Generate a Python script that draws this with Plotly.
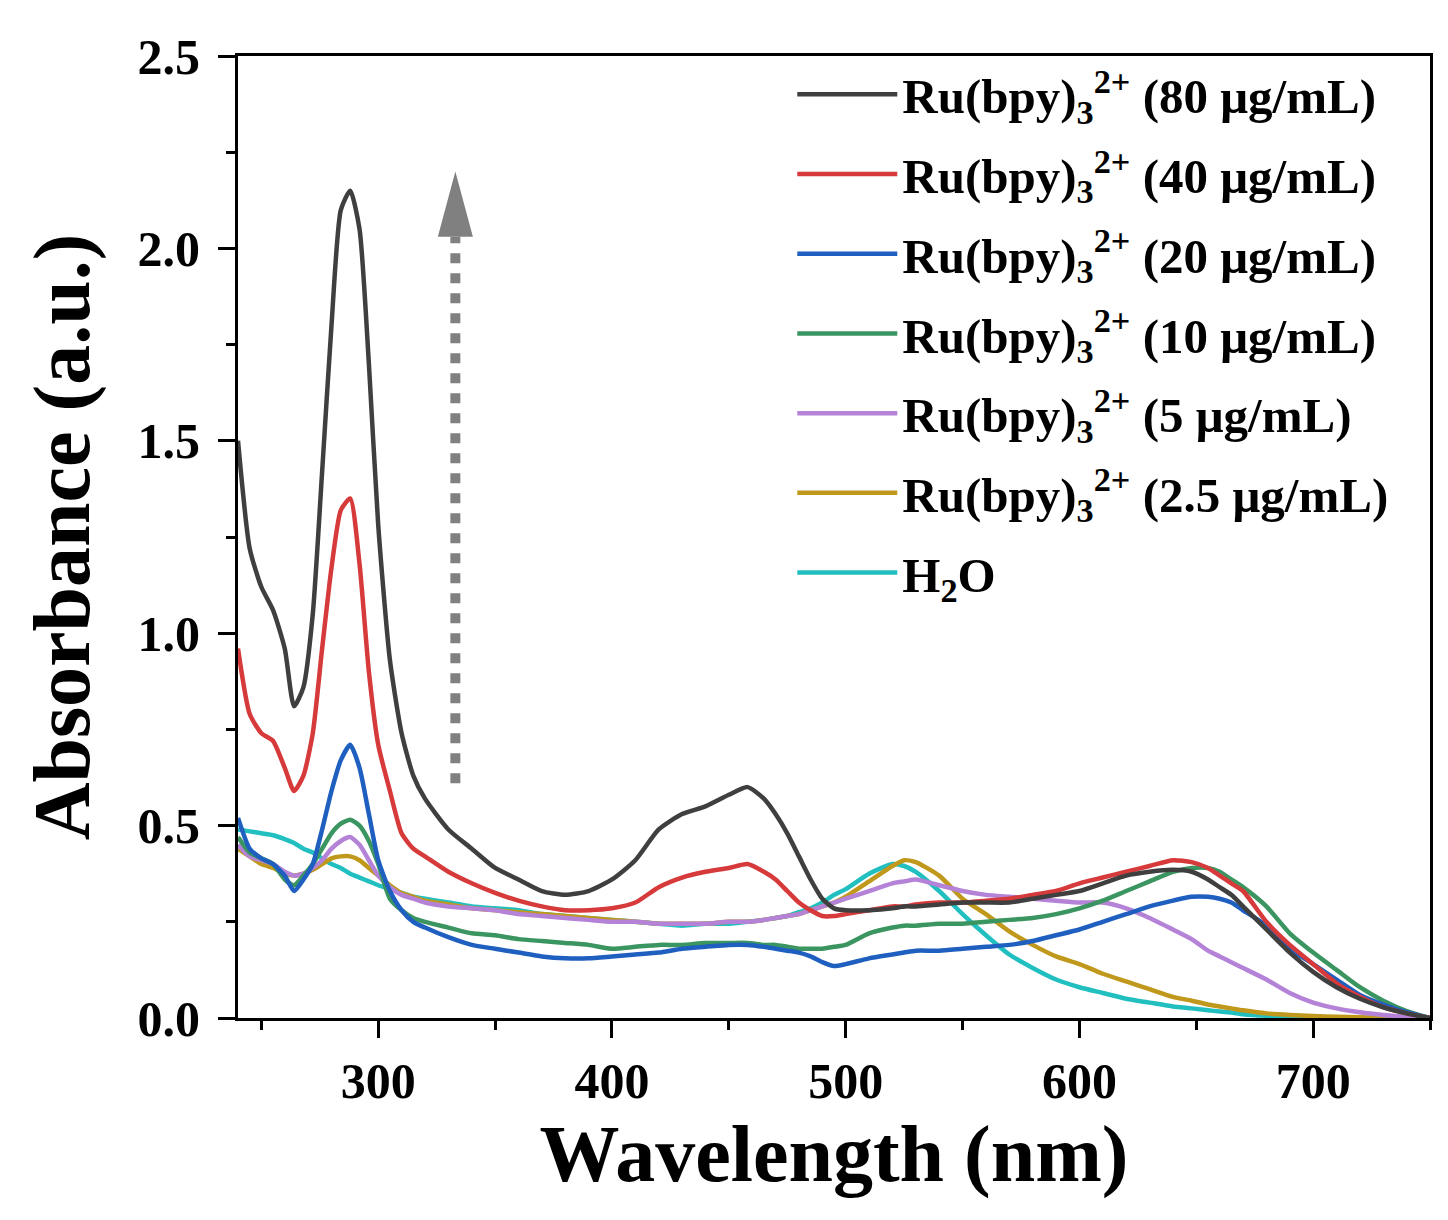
import plotly.graph_objects as go

# wavelength grid (nm), shared by every spectrum
wavelength = [240, 245, 250, 255, 260, 264, 268, 272, 276, 280, 284, 288, 292, 296,
              300, 305, 310, 315, 320, 330, 340, 350, 360, 370, 380, 390, 400, 410,
              420, 430, 440, 450, 458, 465, 470, 475, 480, 485, 490, 495, 500, 510,
              520, 525, 530, 540, 550, 560, 570, 580, 590, 600, 610, 620, 630, 640,
              648, 655, 660, 665, 670, 680, 690, 700, 710, 720, 730, 740, 750]

# absorbance
abs_80 = [1.50, 1.22, 1.12, 1.06, 0.96, 0.81, 0.86, 1.05, 1.42, 1.80, 2.10, 2.15, 2.05, 1.70,
          1.28, 0.93, 0.74, 0.63, 0.57, 0.49, 0.44, 0.39, 0.36, 0.33, 0.32, 0.33, 0.36, 0.41,
          0.49, 0.53, 0.55, 0.58, 0.60, 0.57, 0.53, 0.48, 0.42, 0.36, 0.31, 0.285, 0.28, 0.28,
          0.285, 0.29, 0.29, 0.295, 0.30, 0.30, 0.30, 0.31, 0.32, 0.33, 0.35, 0.37, 0.38, 0.385,
          0.38, 0.36, 0.34, 0.32, 0.29, 0.23, 0.17, 0.12, 0.08, 0.05, 0.028, 0.012, 0.0]
abs_40 = [0.96, 0.79, 0.74, 0.72, 0.65, 0.59, 0.63, 0.74, 0.96, 1.17, 1.32, 1.35, 1.18, 0.90,
          0.71, 0.59, 0.48, 0.44, 0.42, 0.38, 0.35, 0.325, 0.305, 0.29, 0.28, 0.28, 0.285, 0.30,
          0.34, 0.365, 0.38, 0.39, 0.40, 0.38, 0.36, 0.33, 0.30, 0.28, 0.265, 0.265, 0.27, 0.28,
          0.29, 0.29, 0.295, 0.30, 0.30, 0.305, 0.31, 0.32, 0.33, 0.35, 0.365, 0.38, 0.395, 0.41,
          0.405, 0.39, 0.37, 0.35, 0.33, 0.25, 0.19, 0.14, 0.09, 0.055, 0.028, 0.012, 0.0]
abs_20 = [0.52, 0.44, 0.415, 0.40, 0.37, 0.33, 0.36, 0.40, 0.49, 0.59, 0.67, 0.71, 0.65, 0.53,
          0.41, 0.33, 0.28, 0.25, 0.235, 0.21, 0.19, 0.18, 0.17, 0.16, 0.155, 0.155, 0.16, 0.165,
          0.17, 0.18, 0.185, 0.19, 0.19, 0.185, 0.18, 0.175, 0.17, 0.16, 0.145, 0.135, 0.14, 0.155,
          0.165, 0.17, 0.175, 0.175, 0.18, 0.185, 0.19, 0.20, 0.215, 0.23, 0.25, 0.27, 0.29, 0.305,
          0.315, 0.315, 0.31, 0.30, 0.28, 0.24, 0.18, 0.14, 0.10, 0.06, 0.035, 0.015, 0.0]
abs_10 = [0.47, 0.43, 0.415, 0.40, 0.36, 0.345, 0.37, 0.40, 0.44, 0.48, 0.505, 0.515, 0.50, 0.46,
          0.40, 0.31, 0.28, 0.26, 0.25, 0.235, 0.22, 0.215, 0.205, 0.20, 0.195, 0.19, 0.18, 0.185,
          0.19, 0.19, 0.195, 0.195, 0.195, 0.19, 0.19, 0.185, 0.18, 0.18, 0.18, 0.185, 0.19, 0.22,
          0.235, 0.24, 0.24, 0.245, 0.245, 0.25, 0.255, 0.26, 0.27, 0.285, 0.305, 0.33, 0.355, 0.38,
          0.39, 0.39, 0.38, 0.36, 0.34, 0.29, 0.22, 0.17, 0.125, 0.08, 0.045, 0.018, 0.0]
abs_5 = [0.45, 0.42, 0.41, 0.40, 0.38, 0.37, 0.375, 0.39, 0.41, 0.44, 0.46, 0.47, 0.45, 0.41,
         0.37, 0.34, 0.32, 0.31, 0.30, 0.29, 0.285, 0.28, 0.27, 0.265, 0.26, 0.255, 0.25, 0.25,
         0.245, 0.245, 0.245, 0.25, 0.25, 0.255, 0.26, 0.265, 0.27, 0.28, 0.29, 0.30, 0.31, 0.33,
         0.35, 0.355, 0.36, 0.345, 0.33, 0.32, 0.315, 0.31, 0.305, 0.30, 0.30, 0.285, 0.26, 0.23,
         0.205, 0.175, 0.16, 0.145, 0.13, 0.10, 0.065, 0.04, 0.025, 0.015, 0.008, 0.003, 0.0]
abs_2_5 = [0.44, 0.42, 0.40, 0.39, 0.375, 0.37, 0.375, 0.385, 0.40, 0.415, 0.42, 0.42, 0.41, 0.39,
           0.37, 0.345, 0.325, 0.315, 0.305, 0.295, 0.285, 0.28, 0.275, 0.27, 0.265, 0.26, 0.255, 0.25,
           0.245, 0.245, 0.245, 0.25, 0.25, 0.255, 0.26, 0.265, 0.27, 0.28, 0.29, 0.30, 0.315, 0.355,
           0.395, 0.41, 0.405, 0.37, 0.31, 0.27, 0.225, 0.19, 0.16, 0.14, 0.115, 0.095, 0.075, 0.055,
           0.045, 0.035, 0.03, 0.025, 0.02, 0.012, 0.008, 0.005, 0.003, 0.002, 0.001, 0.0, 0.0]
abs_h2o = [0.49, 0.485, 0.48, 0.475, 0.465, 0.455, 0.44, 0.43, 0.415, 0.40, 0.39, 0.375, 0.365, 0.355,
           0.345, 0.335, 0.325, 0.315, 0.31, 0.30, 0.29, 0.285, 0.28, 0.27, 0.265, 0.26, 0.255, 0.25,
           0.245, 0.24, 0.245, 0.245, 0.25, 0.255, 0.26, 0.265, 0.275, 0.285, 0.30, 0.32, 0.335, 0.375,
           0.40, 0.395, 0.38, 0.33, 0.27, 0.215, 0.165, 0.13, 0.10, 0.08, 0.065, 0.05, 0.04, 0.03,
           0.025, 0.02, 0.017, 0.014, 0.01, 0.006, 0.004, 0.002, 0.001, 0.0, 0.0, 0.0, 0.0]

labels = [
    "Ru(bpy)<sub>3</sub><sup>2+</sup> (80 μg/mL)",
    "Ru(bpy)<sub>3</sub><sup>2+</sup> (40 μg/mL)",
    "Ru(bpy)<sub>3</sub><sup>2+</sup> (20 μg/mL)",
    "Ru(bpy)<sub>3</sub><sup>2+</sup> (10 μg/mL)",
    "Ru(bpy)<sub>3</sub><sup>2+</sup> (5 μg/mL)",
    "Ru(bpy)<sub>3</sub><sup>2+</sup> (2.5 μg/mL)",
    "H<sub>2</sub>O",
]
series = [abs_80, abs_40, abs_20, abs_10, abs_5, abs_2_5, abs_h2o]
colors = ["#3f3f3f", "#d63a3a", "#1f5fbf", "#3a9560", "#b482d6", "#c0981c", "#22bfc0"]

# dashed "increasing concentration" arrow (data coords)
arrow_x = 333
arrow_y0, arrow_y1, arrow_tip = 0.61, 2.03, 2.20
arrow_half = 7.5

FONT = "Liberation Serif, Times New Roman, serif"

fig = go.Figure()

# draw lowest first so the strong spectra sit on top; legendrank keeps 80 µg/mL first
for rank, (name, vals, col) in reversed(list(enumerate(zip(labels, series, colors)))):
    fig.add_trace(go.Scatter(
        x=wavelength, y=vals, mode="lines", name=name,
        legendgroup=f"g{rank}", legendrank=rank + 1,
        line=dict(color=col, width=4.5, shape="spline", smoothing=0.6),
    ))

fig.add_shape(type="line", xref="x", yref="y",
              x0=arrow_x, x1=arrow_x, y0=arrow_y0, y1=arrow_y1,
              line=dict(color="#808080", width=10, dash="dot"))
fig.add_shape(type="path", xref="x", yref="y",
              path=f"M {arrow_x - arrow_half},{arrow_y1} L {arrow_x + arrow_half},{arrow_y1} "
                   f"L {arrow_x},{arrow_tip} Z",
              fillcolor="#808080", line=dict(width=0))

fig.update_xaxes(
    range=[240, 750], dtick=100, tick0=0,
    ticks="outside", ticklen=17, tickwidth=3, tickcolor="black",
    minor=dict(dtick=50, ticks="outside", ticklen=9, tickwidth=3, tickcolor="black"),
    showline=True, linewidth=3, linecolor="black", mirror=True,
    showgrid=False, zeroline=False,
    tickfont=dict(family=FONT, size=50, color="black", weight="bold"),
    title=dict(text="Wavelength (nm)", standoff=17,
               font=dict(family=FONT, size=80, color="black", weight="bold")),
)
fig.update_yaxes(
    range=[0, 2.5], dtick=0.5, tick0=0, tickformat=".1f",
    ticks="outside", ticklen=17, tickwidth=3, tickcolor="black",
    minor=dict(dtick=0.25, ticks="outside", ticklen=9, tickwidth=3, tickcolor="black"),
    showline=True, linewidth=3, linecolor="black", mirror=True,
    showgrid=False, zeroline=False, ticklabelstandoff=8,
    tickfont=dict(family=FONT, size=50, color="black", weight="bold"),
    title=dict(text="Absorbance (a.u.)", standoff=22,
               font=dict(family=FONT, size=80, color="black", weight="bold")),
)

fig.update_layout(
    width=1448, height=1220,
    margin=dict(l=230, r=26, t=48, b=210, autoexpand=False),
    plot_bgcolor="white", paper_bgcolor="white",
    font=dict(family=FONT, color="black"),
    legend=dict(
        x=0.465, y=1.0, xanchor="left", yanchor="top",
        traceorder="grouped", tracegroupgap=13, itemwidth=100,
        font=dict(family=FONT, size=49, color="black", weight="bold"),
        bgcolor="rgba(0,0,0,0)",
    ),
)

fig.write_html("out.html")
